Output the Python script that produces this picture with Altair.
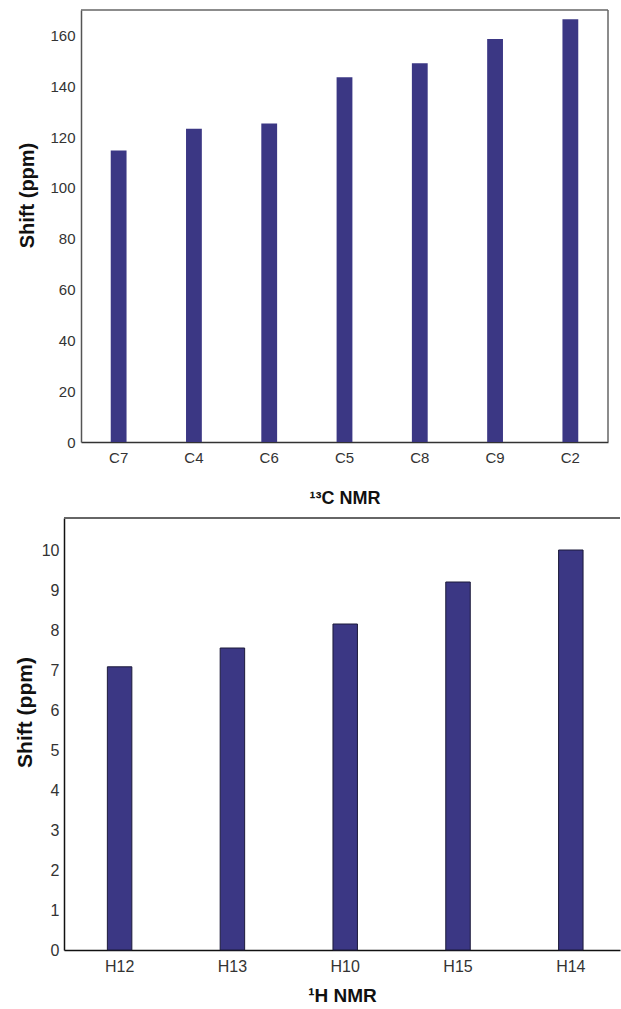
import altair as alt
import pandas as pd

c_atoms = ["C7", "C4", "C6", "C5", "C8", "C9", "C2"]
c_shift = [114.7, 123.3, 125.3, 143.5, 149.0, 158.6, 166.4]
c_ticks = [0, 20, 40, 60, 80, 100, 120, 140, 160]

h_atoms = ["H12", "H13", "H10", "H15", "H14"]
h_shift = [7.08, 7.55, 8.15, 9.2, 10.0]
h_ticks = [0, 1, 2, 3, 4, 5, 6, 7, 8, 9, 10]

FONT = "Liberation Sans"
BAR = "#3b3784"
LBL = "#333333"
FRAME = "#666666"

# top panel geometry (pixels inside the shared column)
TW, TH = 544, 432
T_LEFT = 17
BW, BH = 556, 432

df_c = pd.DataFrame({"atom": c_atoms, "shift": c_shift})
df_h = pd.DataFrame({"atom": h_atoms, "shift": h_shift})

bars_c = alt.Chart(df_c).mark_bar(color=BAR).encode(
    x=alt.X("atom:N", sort=c_atoms,
            scale=alt.Scale(range=[T_LEFT, TW], paddingInner=0.79, paddingOuter=0.395),
            axis=alt.Axis(title="¹³C NMR", labelAngle=0, ticks=False,
                          domainColor="#333", domainWidth=1.5,
                          labelPadding=8, titlePadding=24,
                          labelFont=FONT, labelFontSize=15, labelColor=LBL,
                          titleFont=FONT, titleFontSize=18, titleFontWeight="bold",
                          titleColor="#111")),
    y=alt.Y("shift:Q", scale=alt.Scale(domain=[0, 170], nice=False),
            axis=alt.Axis(title="Shift (ppm)", values=c_ticks, grid=False, ticks=False,
                          offset=-T_LEFT,
                          domainColor="#555", domainWidth=1.5,
                          labelPadding=6, titlePadding=12, titleY=185,
                          labelFont=FONT, labelFontSize=15, labelColor=LBL,
                          titleFont=FONT, titleFontSize=20, titleFontWeight="bold",
                          titleColor="#111")),
)

frame_top = alt.Chart(pd.DataFrame({"a": [0]})).mark_rule(color=FRAME, strokeWidth=1.5).encode(
    x=alt.value(T_LEFT), x2=alt.value(TW), y=alt.value(0)
)
frame_right = alt.Chart(pd.DataFrame({"a": [0]})).mark_rule(color=FRAME, strokeWidth=1.5).encode(
    x=alt.value(TW), y=alt.value(0), y2=alt.value(TH)
)

top = alt.layer(bars_c, frame_top, frame_right).properties(
    width=TW, height=TH, view=alt.ViewBackground(stroke=None)
)

bars_h = alt.Chart(df_h).mark_bar(color=BAR, stroke="#1c1a3a", strokeWidth=1).encode(
    x=alt.X("atom:N", sort=h_atoms,
            scale=alt.Scale(paddingInner=0.783, paddingOuter=0.356, align=0.54),
            axis=alt.Axis(title="¹H NMR", labelAngle=0, ticks=False,
                          domainColor="#111", domainWidth=1.5,
                          labelPadding=8, titlePadding=12,
                          labelFont=FONT, labelFontSize=16, labelColor=LBL,
                          titleFont=FONT, titleFontSize=19, titleFontWeight="bold",
                          titleColor="#111")),
    y=alt.Y("shift:Q", scale=alt.Scale(domain=[0, 10.8], nice=False),
            axis=alt.Axis(title="Shift (ppm)", values=h_ticks, grid=False, ticks=False,
                          domainColor="#111", domainWidth=1.5,
                          labelPadding=5, titlePadding=6, titleY=194,
                          labelFont=FONT, labelFontSize=16, labelColor=LBL,
                          titleFont=FONT, titleFontSize=21, titleFontWeight="bold",
                          titleColor="#111")),
)

top_line = alt.Chart(pd.DataFrame({"a": [0]})).mark_rule(color=FRAME, strokeWidth=2).encode(
    x=alt.value(0), x2=alt.value(BW), y=alt.value(0)
)

bottom = alt.layer(bars_h, top_line).properties(
    width=BW, height=BH, view=alt.ViewBackground(stroke=None)
)

chart = alt.vconcat(top, bottom, spacing=10).properties(
    padding={"top": 9, "left": 14, "right": 0, "bottom": 0},
    background="white",
).configure_view(stroke=None)

chart.save("out.html", embed_options={"renderer": "svg", "actions": False})
